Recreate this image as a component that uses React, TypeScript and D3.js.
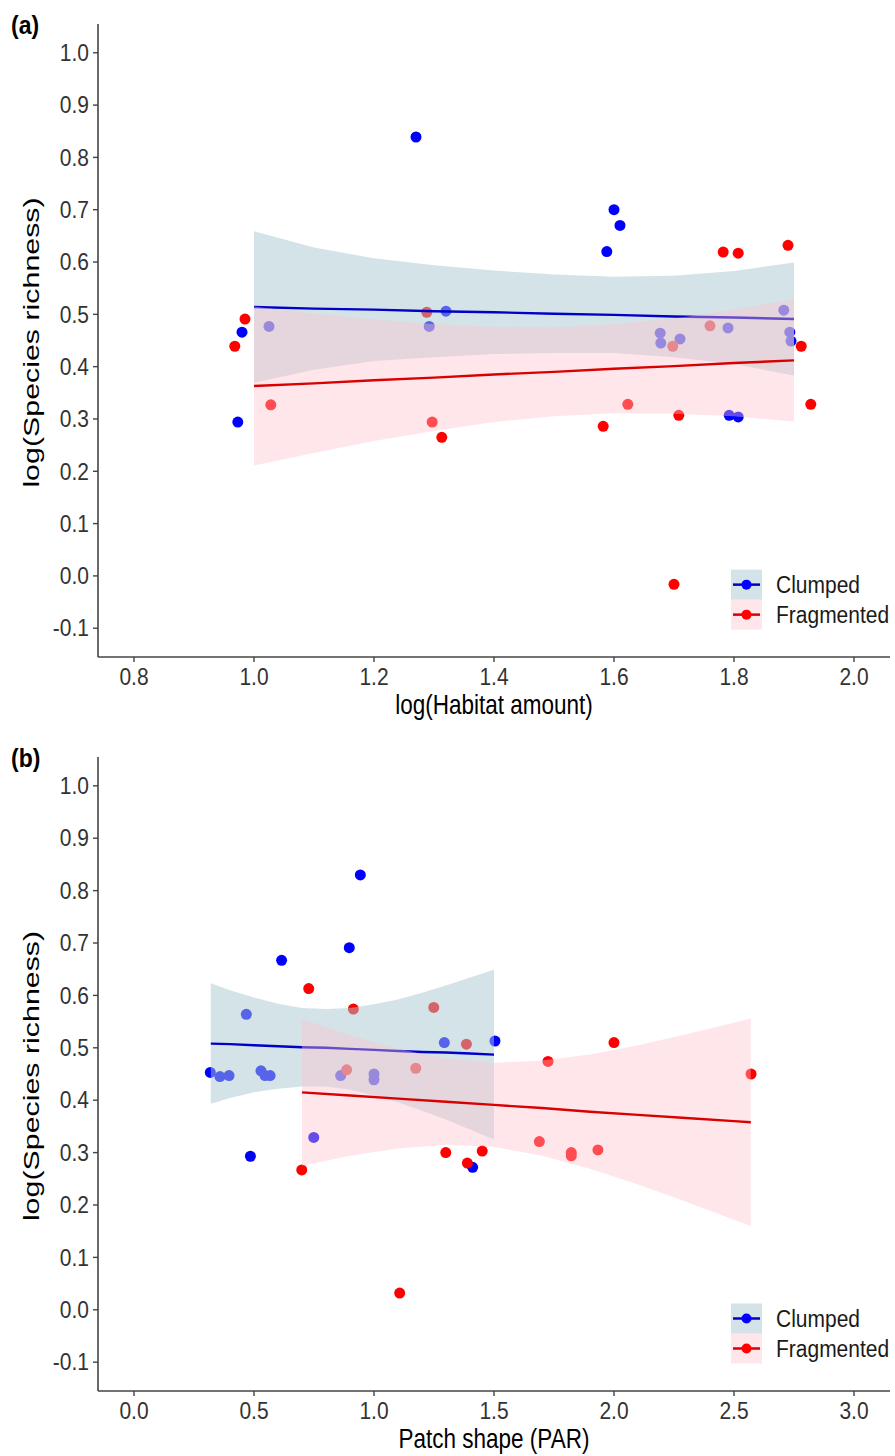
import React from 'react';
import * as d3 from 'd3';

// axis ticks
const yTicks = [-0.1, 0, 0.1, 0.2, 0.3, 0.4, 0.5, 0.6, 0.7, 0.8, 0.9, 1.0];
const habTicks = [0.8, 1.0, 1.2, 1.4, 1.6, 1.8, 2.0];
const parTicks = [0, 0.5, 1.0, 1.5, 2.0, 2.5, 3.0];

// (a) log(Habitat amount) points
const habClumpedX = [1.27, 1.6, 1.61, 1.588, 0.98, 1.025, 1.32, 1.292, 0.973, 1.883, 1.79, 1.677, 1.678, 1.71, 1.893, 1.895, 1.792, 1.807];
const habClumpedY = [0.839, 0.7, 0.67, 0.62, 0.466, 0.477, 0.506, 0.477, 0.294, 0.508, 0.474, 0.464, 0.445, 0.453, 0.466, 0.449, 0.307, 0.304];
const habFragX = [0.985, 0.968, 1.288, 1.028, 1.297, 1.313, 1.582, 1.623, 1.782, 1.807, 1.89, 1.76, 1.698, 1.912, 1.928, 1.708, 1.7];
const habFragY = [0.491, 0.439, 0.504, 0.327, 0.294, 0.265, 0.286, 0.328, 0.619, 0.617, 0.632, 0.478, 0.439, 0.439, 0.328, 0.307, -0.016];

// (a) fitted lines and confidence bands
const habFitX = [1.0, 1.1, 1.2, 1.3, 1.4, 1.5, 1.6, 1.7, 1.8, 1.9];
const habClumpedFit = [0.514, 0.511, 0.509, 0.506, 0.504, 0.501, 0.499, 0.496, 0.494, 0.491];
const habClumpedLo = [0.369, 0.394, 0.411, 0.418, 0.424, 0.426, 0.426, 0.418, 0.405, 0.383];
const habClumpedHi = [0.659, 0.628, 0.607, 0.594, 0.584, 0.576, 0.572, 0.574, 0.583, 0.599];
const habFragFit = [0.363, 0.368, 0.374, 0.379, 0.385, 0.39, 0.396, 0.401, 0.407, 0.412];
const habFragLo = [0.211, 0.235, 0.258, 0.277, 0.294, 0.305, 0.311, 0.31, 0.305, 0.295];
const habFragHi = [0.515, 0.501, 0.49, 0.481, 0.476, 0.475, 0.481, 0.492, 0.509, 0.529];

// (b) Patch shape (PAR) points
const parClumpedX = [0.943, 0.897, 0.615, 0.468, 1.293, 1.504, 0.318, 0.358, 0.396, 0.529, 0.546, 0.567, 0.861, 1.0, 1.0, 0.749, 0.485, 1.411];
const parClumpedY = [0.83, 0.691, 0.667, 0.564, 0.51, 0.513, 0.453, 0.445, 0.447, 0.456, 0.447, 0.447, 0.447, 0.45, 0.439, 0.329, 0.293, 0.272];
const parFragX = [0.728, 0.914, 1.249, 1.385, 0.886, 1.174, 1.725, 0.699, 1.299, 1.451, 1.389, 1.107, 1.689, 2.0, 2.571, 1.822, 1.822, 1.933];
const parFragY = [0.613, 0.574, 0.577, 0.507, 0.458, 0.461, 0.474, 0.267, 0.3, 0.303, 0.28, 0.032, 0.321, 0.51, 0.45, 0.3, 0.294, 0.305];

// (b) fitted lines and confidence bands
const parClumpedFitX = [0.32, 0.4, 0.5, 0.6, 0.7, 0.8, 0.9, 1.0, 1.1, 1.2, 1.3, 1.4, 1.5];
const parClumpedFit = [0.508, 0.507, 0.505, 0.503, 0.501, 0.5, 0.498, 0.496, 0.494, 0.492, 0.491, 0.489, 0.487];
const parClumpedLo = [0.393, 0.404, 0.415, 0.422, 0.426, 0.426, 0.42, 0.409, 0.396, 0.38, 0.363, 0.344, 0.325];
const parClumpedHi = [0.623, 0.61, 0.596, 0.584, 0.576, 0.574, 0.576, 0.583, 0.592, 0.605, 0.619, 0.634, 0.649];
const parFragFitX = [0.7, 0.9, 1.1, 1.3, 1.5, 1.7, 1.9, 2.1, 2.3, 2.5, 2.57];
const parFragFit = [0.415, 0.409, 0.403, 0.397, 0.391, 0.385, 0.378, 0.372, 0.366, 0.36, 0.358];
const parFragLo = [0.275, 0.294, 0.308, 0.315, 0.311, 0.294, 0.269, 0.239, 0.206, 0.172, 0.16];
const parFragHi = [0.555, 0.524, 0.498, 0.479, 0.471, 0.476, 0.487, 0.505, 0.526, 0.548, 0.556];

const BLUE = '#0000ff';
const RED = '#ff0000';
const BLUE_LINE = '#0000c8';
const RED_LINE = '#d80000';
const BLUE_BAND = '#a9c8d2';
const RED_BAND = '#ffc0cb';
const FONT = 'Liberation Sans, Arial, sans-serif';
const AXIS = '#444';

const LEFT = 98;
const RIGHT = 890;

type Band = { x: number[]; fit: number[]; lo: number[]; hi: number[] };

function Panel(props: {
  top: number;
  bottom: number;
  tag: string;
  xDomain: [number, number];
  xTicks: number[];
  xLabel: string;
  clumped: { x: number[]; y: number[] };
  frag: { x: number[]; y: number[] };
  clumpedBand: Band;
  fragBand: Band;
}) {
  const { top, bottom, tag, xDomain, xTicks, xLabel, clumped, frag, clumpedBand, fragBand } = props;
  const x = d3.scaleLinear().domain(xDomain).range([LEFT, RIGHT]);
  const y = d3.scaleLinear().domain([-0.155, 1.055]).range([bottom, top]);

  const area = (b: Band) =>
    d3.area<number>()
      .x((_, i) => x(b.x[i]))
      .y0((_, i) => y(b.lo[i]))
      .y1((_, i) => y(b.hi[i]))(b.x) || '';
  const line = (b: Band) =>
    d3.line<number>()
      .x((_, i) => x(b.x[i]))
      .y((_, i) => y(b.fit[i]))(b.x) || '';

  const legendTop = y(0.012);

  return (
    <g>
      <text transform={`translate(11,${top + 10}) scale(1,1.15)`} fontFamily={FONT} fontWeight="bold" fontSize={23} fill="#000">{tag}</text>

      {/* points first, bands drawn over them */}
      {clumped.x.map((v, i) => (
        <circle key={'c' + i} cx={x(v)} cy={y(clumped.y[i])} r={5.5} fill={BLUE} />
      ))}
      {frag.x.map((v, i) => (
        <circle key={'f' + i} cx={x(v)} cy={y(frag.y[i])} r={5.5} fill={RED} />
      ))}

      <path d={area(clumpedBand)} fill={BLUE_BAND} fillOpacity={0.5} />
      <path d={line(clumpedBand)} fill="none" stroke={BLUE_LINE} strokeWidth={2.4} />
      <path d={area(fragBand)} fill={RED_BAND} fillOpacity={0.4} />
      <path d={line(fragBand)} fill="none" stroke={RED_LINE} strokeWidth={2.4} />

      {/* y axis */}
      <line x1={LEFT} x2={LEFT} y1={top} y2={bottom} stroke={AXIS} strokeWidth={1.6} />
      {yTicks.map(t => (
        <g key={'y' + t} transform={`translate(0,${y(t)})`}>
          <line x1={LEFT - 5} x2={LEFT} stroke={AXIS} strokeWidth={1.4} />
          <text transform={`translate(${LEFT - 9},0) scale(1,1.12)`} dy="0.35em" textAnchor="end" fontFamily={FONT} fontSize={21} fill="#333">{t.toFixed(1)}</text>
        </g>
      ))}

      {/* x axis */}
      <line x1={LEFT} x2={RIGHT} y1={bottom} y2={bottom} stroke={AXIS} strokeWidth={1.6} />
      {xTicks.map(t => (
        <g key={'x' + t} transform={`translate(${x(t)},${bottom})`}>
          <line y1={0} y2={5} stroke={AXIS} strokeWidth={1.4} />
          <text transform="translate(0,28) scale(1,1.12)" textAnchor="middle" fontFamily={FONT} fontSize={21} fill="#333">{t.toFixed(1)}</text>
        </g>
      ))}

      <text transform={`translate(${(LEFT + RIGHT) / 2},${bottom + 57}) scale(1,1.22)`} textAnchor="middle" fontFamily={FONT} fontSize={22.5} fill="#000">{xLabel}</text>
      <text transform={`translate(39,${(top + bottom) / 2 + 2}) rotate(-90) scale(1.35,1)`} textAnchor="middle" fontFamily={FONT} fontSize={22.5} fill="#000">log(Species richness)</text>

      {/* legend */}
      <g transform={`translate(731,${legendTop})`}>
        <rect x={0} y={0} width={31} height={30} fill={BLUE_BAND} fillOpacity={0.5} />
        <line x1={2} x2={29} y1={15} y2={15} stroke={BLUE_LINE} strokeWidth={2.5} />
        <circle cx={15.5} cy={15} r={5} fill={BLUE} />
        <text transform="translate(45,15) scale(1,1.15)" dy="0.35em" fontFamily={FONT} fontSize={21} fill="#1a1a1a">Clumped</text>
        <rect x={0} y={30} width={31} height={30} fill={RED_BAND} fillOpacity={0.4} />
        <line x1={2} x2={29} y1={45} y2={45} stroke={RED_LINE} strokeWidth={2.5} />
        <circle cx={15.5} cy={45} r={5} fill={RED} />
        <text transform="translate(45,45) scale(1,1.15)" dy="0.35em" fontFamily={FONT} fontSize={21} fill="#1a1a1a">Fragmented</text>
      </g>
    </g>
  );
}

export default function App() {
  return (
    <svg width={895} height={1456} style={{ position: 'absolute', left: 0, top: 0, background: '#fff' }}>
      <rect width={895} height={1456} fill="#fff" />
      <Panel
        top={24}
        bottom={657}
        tag="(a)"
        xDomain={[0.74, 2.06]}
        xTicks={habTicks}
        xLabel="log(Habitat amount)"
        clumped={{ x: habClumpedX, y: habClumpedY }}
        frag={{ x: habFragX, y: habFragY }}
        clumpedBand={{ x: habFitX, fit: habClumpedFit, lo: habClumpedLo, hi: habClumpedHi }}
        fragBand={{ x: habFitX, fit: habFragFit, lo: habFragLo, hi: habFragHi }}
      />
      <Panel
        top={757}
        bottom={1391}
        tag="(b)"
        xDomain={[-0.15, 3.15]}
        xTicks={parTicks}
        xLabel="Patch shape (PAR)"
        clumped={{ x: parClumpedX, y: parClumpedY }}
        frag={{ x: parFragX, y: parFragY }}
        clumpedBand={{ x: parClumpedFitX, fit: parClumpedFit, lo: parClumpedLo, hi: parClumpedHi }}
        fragBand={{ x: parFragFitX, fit: parFragFit, lo: parFragLo, hi: parFragHi }}
      />
    </svg>
  );
}
